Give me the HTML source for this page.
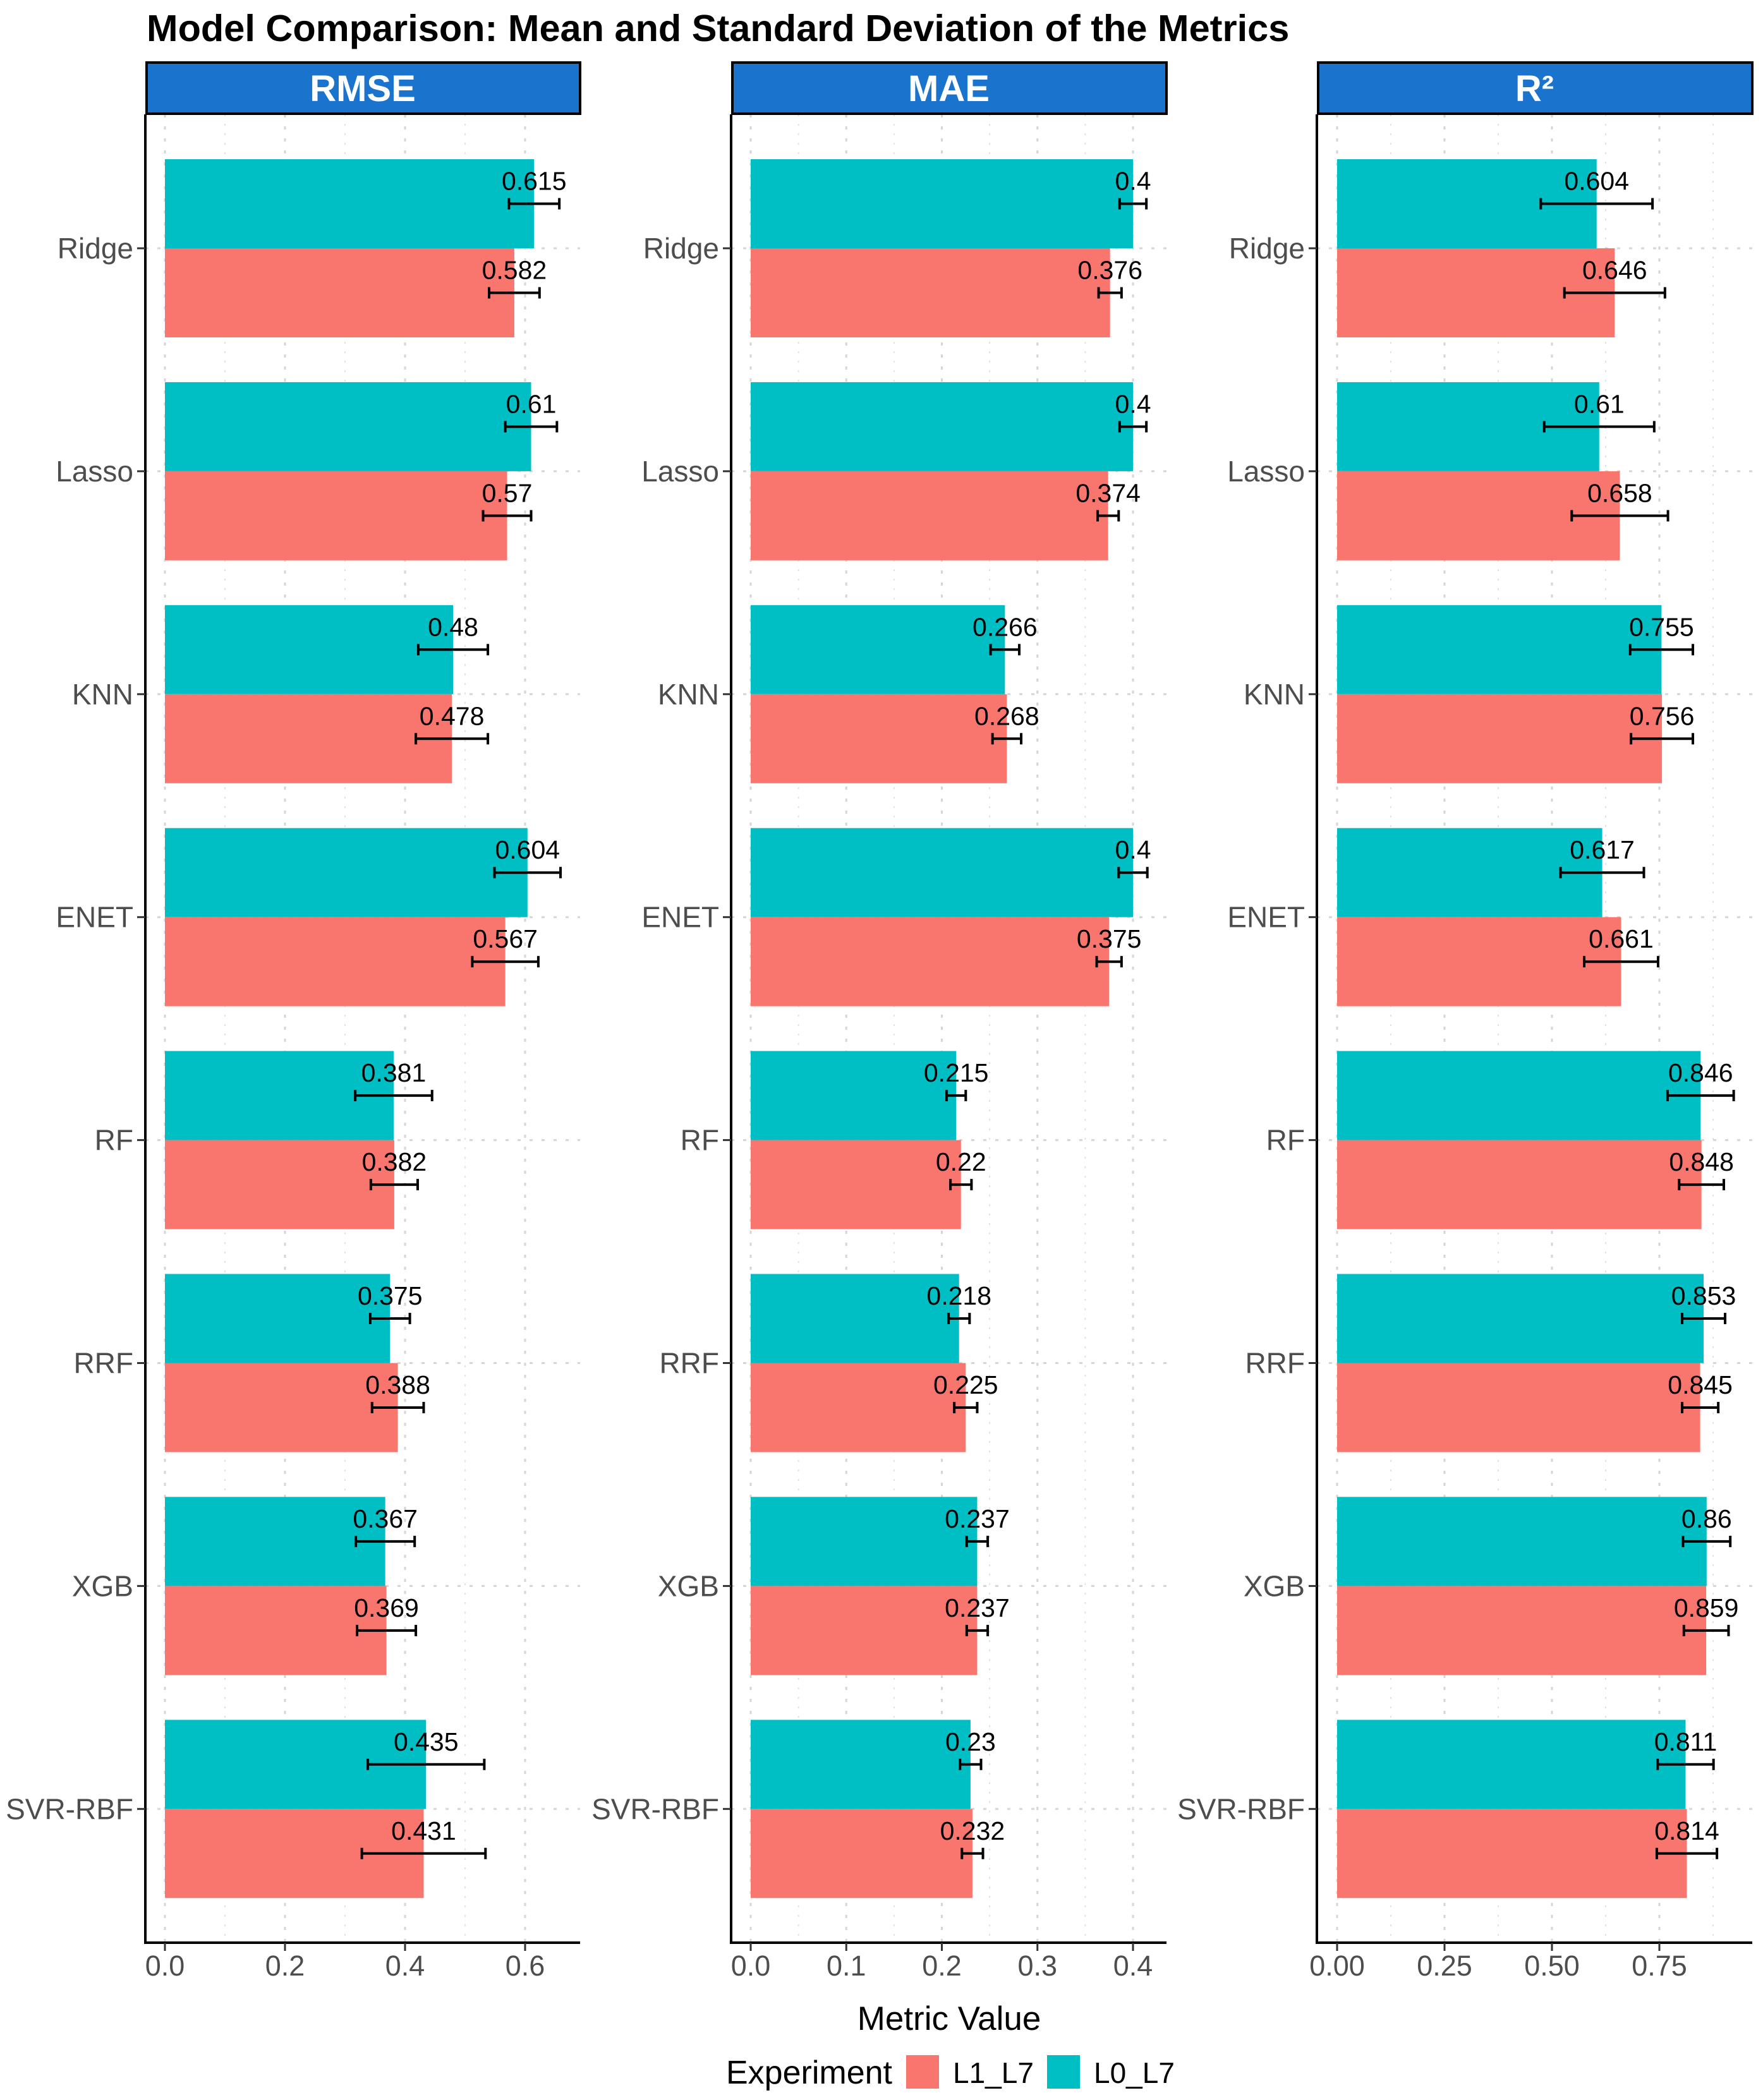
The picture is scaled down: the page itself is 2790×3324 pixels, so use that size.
<!DOCTYPE html>
<html><head><meta charset="utf-8"><style>
html,body{margin:0;padding:0;background:#fff;}
svg{display:block;font-family:"Liberation Sans",sans-serif;}
</style></head><body>
<svg id="chart" width="2790" height="3324" viewBox="0 0 2790 3324" xmlns="http://www.w3.org/2000/svg">
<text x="232" y="65" font-size="59.5" font-weight="bold" fill="#000">Model Comparison: Mean and Standard Deviation of the Metrics</text>
<g id="panels"></g>
<text x="1502" y="3213" font-size="53" text-anchor="middle" fill="#000">Metric Value</text>
<g>
<text x="1149" y="3298" font-size="52" fill="#000">Experiment</text>
<rect x="1434" y="3253" width="52" height="53" fill="#F8766D"/>
<text x="1508" y="3297" font-size="46" fill="#000">L1_L7</text>
<rect x="1657" y="3253" width="52" height="53" fill="#00BFC4"/>
<text x="1731" y="3297" font-size="46" fill="#000">L0_L7</text>
</g>
</svg>
<script>
const models = ["Ridge","Lasso","KNN","ENET","RF","RRF","XGB","SVR-RBF"];
const metrics = ["RMSE","MAE","R²"];
const rmseL1 = [0.582,0.57,0.478,0.567,0.382,0.388,0.369,0.431];
const rmseL0 = [0.615,0.61,0.48,0.604,0.381,0.375,0.367,0.435];
const rmseSdL1 = [0.042,0.04,0.06,0.055,0.039,0.043,0.049,0.103];
const rmseSdL0 = [0.042,0.043,0.058,0.055,0.064,0.033,0.049,0.097];
const maeL1 = [0.376,0.374,0.268,0.375,0.22,0.225,0.237,0.232];
const maeL0 = [0.4,0.4,0.266,0.4,0.215,0.218,0.237,0.23];
const maeSdL1 = [0.012,0.011,0.015,0.013,0.011,0.012,0.011,0.011];
const maeSdL0 = [0.014,0.014,0.015,0.015,0.01,0.011,0.011,0.011];
const r2L1 = [0.646,0.658,0.756,0.661,0.848,0.845,0.859,0.814];
const r2L0 = [0.604,0.61,0.755,0.617,0.846,0.853,0.86,0.811];
const r2SdL1 = [0.117,0.112,0.072,0.086,0.052,0.042,0.052,0.07];
const r2SdL0 = [0.13,0.128,0.073,0.097,0.077,0.05,0.055,0.065];
const rmseTicks = ["0.0","0.2","0.4","0.6"];
const maeTicks = ["0.0","0.1","0.2","0.3","0.4"];
const r2Ticks = ["0.00","0.25","0.50","0.75"];

const NS="http://www.w3.org/2000/svg";
const root=document.getElementById('panels');
function mk(tag,attrs,parent){const e=document.createElementNS(NS,tag);for(const k in attrs)e.setAttribute(k,attrs[k]);parent.appendChild(e);return e;}
const panelTop=181, panelBottom=3075, cat0=393, catStep=352.9, halfBar=141;
function yScale(i){return cat0+i*catStep;}
const panels=[
 {left:230,right:918,zero:261,scale:950,ticks:rmseTicks,minor:[0.1,0.3,0.5],L1:rmseL1,L0:rmseL0,s1:rmseSdL1,s0:rmseSdL0,key:"rmse"},
 {left:1157,right:1846,zero:1188,scale:1512.5,ticks:maeTicks,minor:[0.05,0.15,0.25,0.35],L1:maeL1,L0:maeL0,s1:maeSdL1,s0:maeSdL0,key:"mae"},
 {left:2084,right:2773,zero:2116,scale:680,ticks:r2Ticks,minor:[0.125,0.375,0.625,0.875],L1:r2L1,L0:r2L0,s1:r2SdL1,s0:r2SdL0,key:"r2"}
];
panels.forEach((p,pi)=>{
  const g=mk('g',{},root);
  
  
  const x=v=>p.zero+v*p.scale;
  p.minor.forEach(v=>{const l=mk('line',{x1:x(v),x2:x(v),y1:panelTop,y2:panelBottom,stroke:'#e3e3e3','stroke-width':2,'stroke-dasharray':'3 12'},g);
    });
  p.ticks.forEach(t=>{const v=parseFloat(t);const l=mk('line',{x1:x(v),x2:x(v),y1:panelTop,y2:panelBottom,stroke:'#d6d6d6','stroke-width':3,'stroke-dasharray':'5 14'},g);
    });
  models.forEach((m,i)=>{const l=mk('line',{x1:p.left,x2:p.right,y1:yScale(i),y2:yScale(i),stroke:'#d6d6d6','stroke-width':3,'stroke-dasharray':'5 14'},g);
    });
  models.forEach((m,i)=>{
    const yc=yScale(i);
    const b0=mk('rect',{x:x(0),y:yc-halfBar,width:x(p.L0[i])-x(0),height:halfBar,fill:'#00BFC4'},g);
    
    
    const b1=mk('rect',{x:x(0),y:yc,width:x(p.L1[i])-x(0),height:halfBar,fill:'#F8766D'},g);
    
    
  });
  models.forEach((m,i)=>{
    [[p.L0[i],p.s0[i],yScale(i)-halfBar/2,'l0-l7'],[p.L1[i],p.s1[i],yScale(i)+halfBar/2,'l1-l7']].forEach(([v,s,yy,nm])=>{
      const eg=mk('g',{stroke:'#000','stroke-width':4},g);
      
      
      mk('line',{x1:x(v-s),x2:x(v+s),y1:yy,y2:yy},eg);
      mk('line',{x1:x(v-s),x2:x(v-s),y1:yy-9,y2:yy+9},eg);
      mk('line',{x1:x(v+s),x2:x(v+s),y1:yy-9,y2:yy+9},eg);
      const t=mk('text',{x:x(v),y:yy-22,'font-size':41,'text-anchor':'middle',fill:'#000'},g);
      
      
      t.textContent=String(v);
    });
  });
  const ax=mk('path',{d:`M${p.left},${panelTop} V${panelBottom} H${p.right}`,fill:'none',stroke:'#000','stroke-width':4},g);
  
  
  models.forEach((m,i)=>{
    mk('line',{x1:p.left-13,x2:p.left,y1:yScale(i),y2:yScale(i),stroke:'#333','stroke-width':3},g);
    const t=mk('text',{x:p.left-19,y:yScale(i)+16,'font-size':46,'text-anchor':'end',fill:'#4d4d4d'},g);
    
    
    t.textContent=m;
  });
  p.ticks.forEach(tk=>{
    const v=parseFloat(tk);
    mk('line',{x1:x(v),x2:x(v),y1:panelBottom,y2:panelBottom+13,stroke:'#333','stroke-width':3},g);
    const t=mk('text',{x:x(v),y:panelBottom+52,'font-size':45,'text-anchor':'middle',fill:'#4d4d4d'},g);
    
    
    t.textContent=tk;
  });
  const sr=mk('rect',{x:p.left+2,y:99,width:p.right-p.left-2,height:81,fill:'#1A73CC',stroke:'#000','stroke-width':4},g);
  
  
  const st=mk('text',{x:(p.left+p.right)/2,y:160,'font-size':58,'font-weight':'bold','text-anchor':'middle',fill:'#fff'},g);
  
  
  st.textContent=metrics[pi];
});
</script>
</body></html>
